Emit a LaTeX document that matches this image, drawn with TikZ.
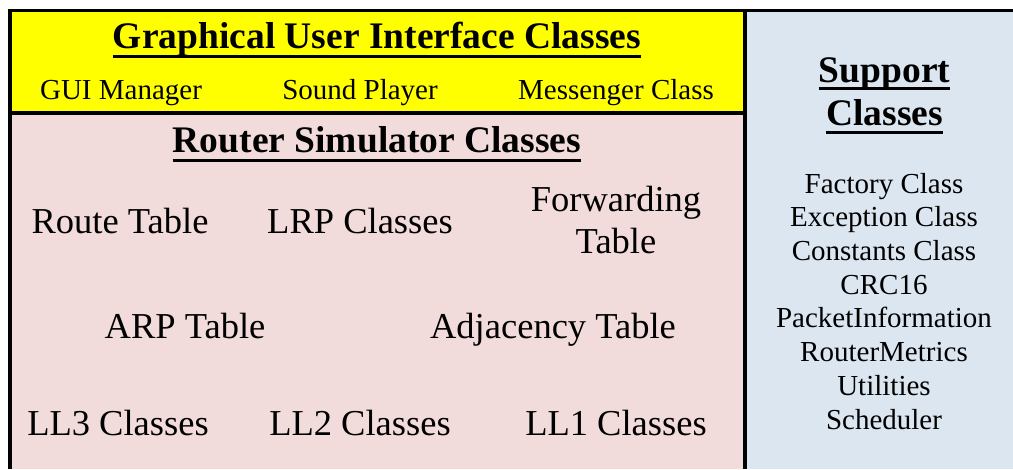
\documentclass[tikz,border=0pt]{standalone}
\usepackage{fontspec}
\setmainfont{Liberation Serif}
\definecolor{guiyellow}{HTML}{FFFF00}
\definecolor{routerpink}{HTML}{F2DCDB}
\definecolor{supportblue}{HTML}{DCE6F1}
\begin{document}
\begin{tikzpicture}[x=1pt,y=-1pt,
  frame/.style={line width=3.5pt, line join=miter},
  titletext/.style={font=\fontsize{37.5}{43}\selectfont\bfseries, inner sep=0pt, anchor=base},
  guitext/.style={font=\fontsize{29}{34}\selectfont, inner sep=0pt, anchor=base},
  routertext/.style={font=\fontsize{36.5}{41.5}\selectfont, inner sep=0pt, anchor=base, align=center},
  supporttext/.style={font=\fontsize{29}{33.7}\selectfont, inner sep=0pt, anchor=base, align=center},
  uline/.style={line width=3pt}
]
\useasboundingbox (0,0) rectangle (1013,469);
\fill[white] (0,0) rectangle (1013,469);
% regions
\fill[guiyellow] (10,10.5) rectangle (745,113);
\fill[routerpink] (10,113) rectangle (745,469);
\fill[supportblue] (745,10.5) rectangle (1013,469);
\draw[frame] (10,469) -- (10,10.5) -- (1013,10.5);
\draw[frame] (745,10.5) -- (745,469);
\draw[frame] (10,113) -- (745,113);

% GUI
\node[titletext] (guititle) at (377,48.5) {Graphical User Interface Classes};
\draw[uline] ([yshift=-7.5pt]guititle.base west) -- ([yshift=-7.5pt]guititle.base east);
\node[guitext] (guimgr) at (121,99) {GUI Manager};
\node[guitext] (sound) at (360,99) {Sound Player};
\node[guitext] (msg) at (616,99) {Messenger Class};

% Router (base of a multi-line node = baseline of its last line)
\node[titletext] (routertitle) at (377,152) {Router Simulator Classes};
\draw[uline] ([yshift=-8.5pt]routertitle.base west) -- ([yshift=-8.5pt]routertitle.base east);
\node[routertext] (route) at (120,233) {Route Table};
\node[routertext] (lrp) at (360,233) {LRP Classes};
\node[routertext] (fwd) at (616,253) {Forwarding\\Table};
\node[routertext] (arp) at (185,338) {ARP Table};
\node[routertext] (adj) at (553,338) {Adjacency Table};
\node[routertext] (ll3) at (118,435) {LL3 Classes};
\node[routertext] (ll2) at (360,435) {LL2 Classes};
\node[routertext] (ll1) at (616,435) {LL1 Classes};

% Support
\node[titletext] (sup1) at (884.5,82) {Support};
\draw[uline] ([yshift=-6.5pt]sup1.base west) -- ([yshift=-6.5pt]sup1.base east);
\node[titletext] (sup2) at (884.5,125) {Classes};
\draw[uline] ([yshift=-7pt]sup2.base west) -- ([yshift=-7pt]sup2.base east);
\node[supporttext] (suplist) at (884,429) {Factory Class\\Exception Class\\Constants Class\\CRC16\\PacketInformation\\RouterMetrics\\Utilities\\Scheduler};
\end{tikzpicture}
\end{document}
